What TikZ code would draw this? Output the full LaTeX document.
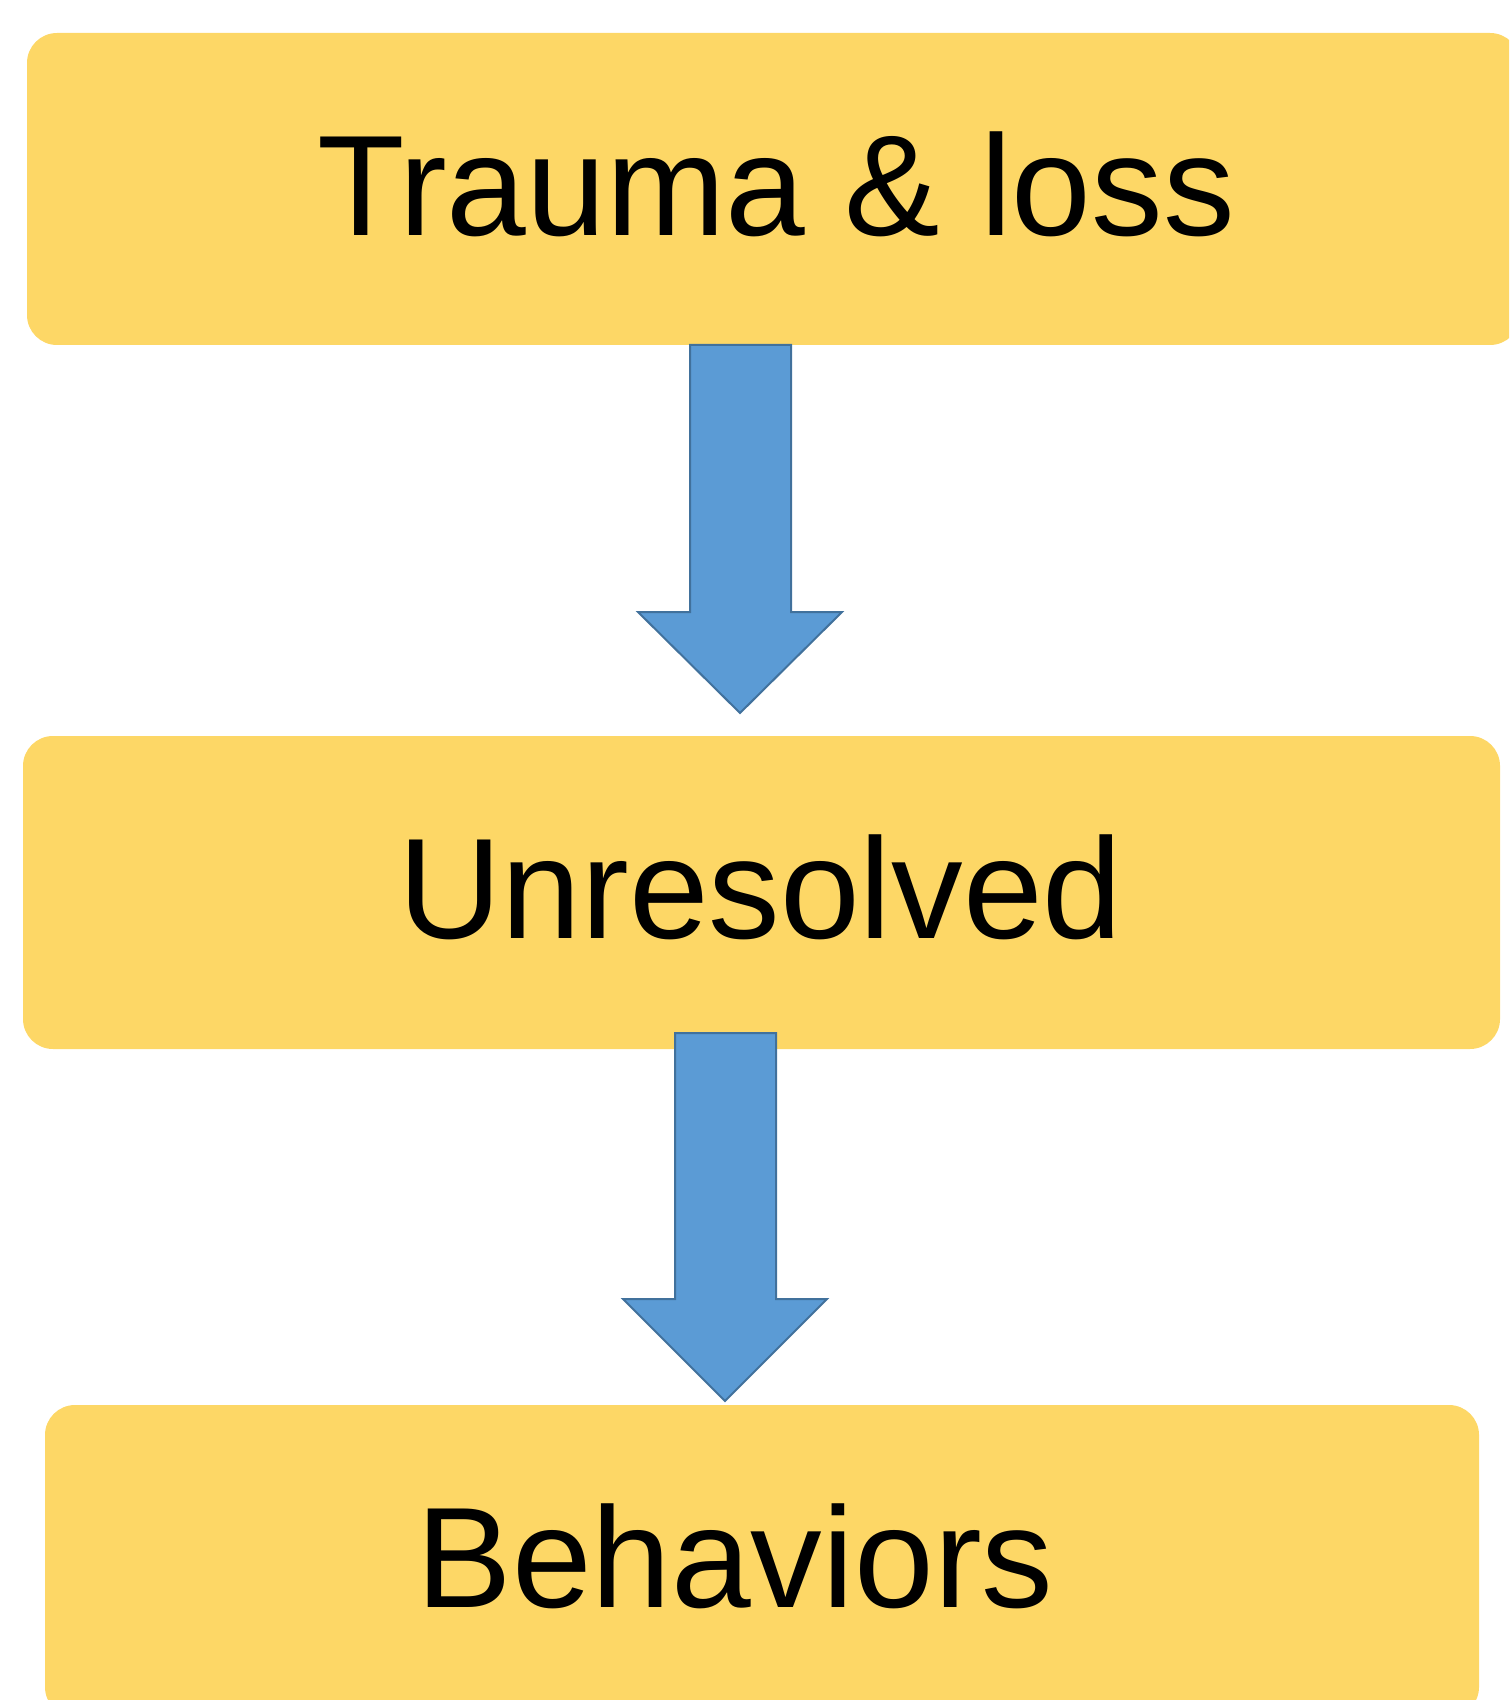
\documentclass[tikz,border=0pt]{standalone}
\usepackage{fontspec}
\setmainfont{Liberation Sans}
\definecolor{boxyellow}{HTML}{FDD766}
\definecolor{arrowblue}{HTML}{5B9BD5}
\definecolor{arrowedge}{HTML}{41719C}
\begin{document}
\begin{tikzpicture}[x=0.5pt,y=-0.5pt,
  stagebox/.style={fill=boxyellow, draw=none, rounded corners=15pt, inner sep=0pt, outer sep=0pt},
  stagetext/.style={font=\fontsize{71.6}{80}\selectfont, anchor=base, inner sep=0pt, text=black},
  blockarrow/.style={fill=arrowblue, draw=arrowedge, line width=1pt, line join=miter}]
\useasboundingbox (0,0) rectangle (1509,1700);
\clip (0,0) rectangle (1509,1700);
% boxes
\node[stagebox, minimum width=746.5pt, minimum height=156pt] (b1) at (773.5,189) {};
\node[stagebox, minimum width=738.5pt, minimum height=156.5pt] (b2) at (761.5,892.5) {};
\node[stagebox, minimum width=717pt, minimum height=156pt] (b3) at (762,1561) {};
% texts
\node[stagetext] (t1) at (776,236) {Trauma \& loss};
\node[stagetext] (t2) at (760.5,938) {Unresolved};
\node[stagetext] (t3) at (735,1607) {Behaviors};
% block arrows
\draw[blockarrow] (690,345) -- (791,345) -- (791,612) -- (842,612) -- (740,713) -- (638,612) -- (690,612) -- cycle;
\draw[blockarrow] (675,1033) -- (776,1033) -- (776,1299) -- (827,1299) -- (725,1401) -- (623,1299) -- (675,1299) -- cycle;
\end{tikzpicture}
\end{document}
